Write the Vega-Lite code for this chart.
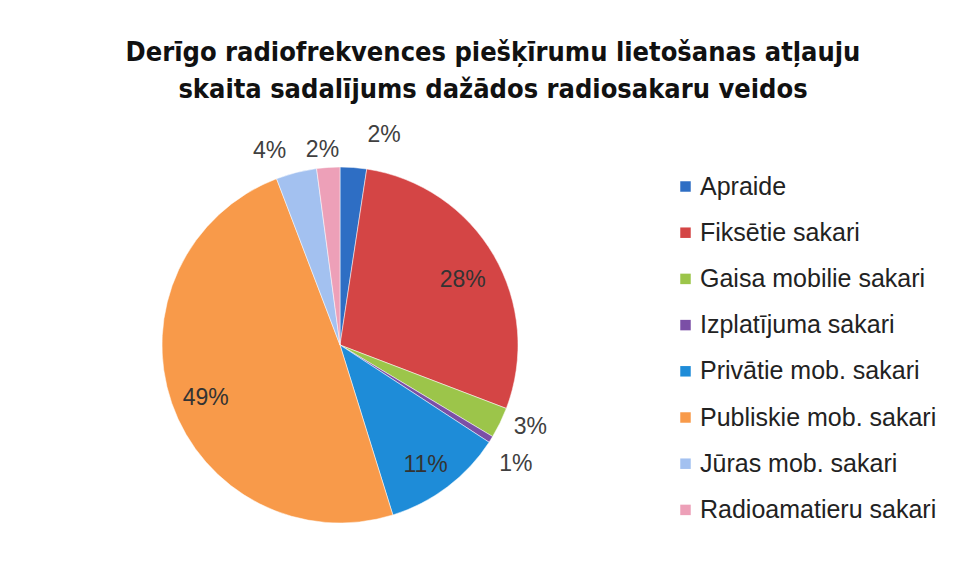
{
  "$schema": "https://vega.github.io/schema/vega-lite/v6.json",
  "width": 356,
  "height": 356,
  "autosize": {"type": "none"},
  "padding": {"left": 162, "top": 167, "right": 440, "bottom": 62},
  "background": "white",
  "title": {
    "text": ["Derīgo radiofrekvences piešķīrumu lietošanas atļauju", "skaita sadalījums dažādos radiosakaru veidos"],
    "frame": "group",
    "anchor": "middle",
    "dx": 153,
    "offset": 17,
    "font": "DejaVu Sans Condensed, Liberation Sans Narrow, Roboto, sans-serif",
    "fontWeight": "bold",
    "fontSize": 27,
    "lineHeight": 37,
    "color": "#111111"
  },
  "data": {
    "values": [
      {"cat": "Apraide", "share": 0.024, "ord": 1},
      {"cat": "Fiksētie sakari", "share": 0.284, "ord": 2},
      {"cat": "Gaisa mobilie sakari", "share": 0.028, "ord": 3},
      {"cat": "Izplatījuma sakari", "share": 0.006, "ord": 4},
      {"cat": "Privātie mob. sakari", "share": 0.110, "ord": 5},
      {"cat": "Publiskie mob. sakari", "share": 0.490, "ord": 6},
      {"cat": "Jūras mob. sakari", "share": 0.037, "ord": 7},
      {"cat": "Radioamatieru sakari", "share": 0.021, "ord": 8}
    ]
  },
  "encoding": {
    "theta": {"field": "share", "type": "quantitative", "stack": true},
    "order": {"field": "ord", "type": "quantitative"}
  },
  "layer": [
    {
      "mark": {"type": "arc", "outerRadius": 178, "stroke": "white", "strokeWidth": 0.5},
      "encoding": {
        "color": {
          "field": "cat",
          "type": "nominal",
          "scale": {
            "domain": ["Apraide", "Fiksētie sakari", "Gaisa mobilie sakari", "Izplatījuma sakari", "Privātie mob. sakari", "Publiskie mob. sakari", "Jūras mob. sakari", "Radioamatieru sakari"],
            "range": ["#2e6ec4", "#d44545", "#9cc54a", "#7b4fa6", "#1e8cd8", "#f89a4a", "#a3c1f0", "#eda0b8"]
          },
          "legend": {
            "title": null,
            "orient": "none",
            "legendX": 511,
            "legendY": 7,
            "symbolType": "square",
            "symbolSize": 110,
            "symbolStrokeWidth": 0,
            "labelFont": "Liberation Sans",
            "labelFontSize": 25,
            "labelColor": "#222222",
            "labelOffset": 2,
            "labelLimit": 400,
            "rowPadding": 20.2
          }
        }
      }
    },
    {
      "mark": {"type": "text", "radius": 142, "dy": 7, "font": "Liberation Sans", "fontSize": 23, "color": "#333333"},
      "encoding": {
        "text": {"condition": {"test": "datum.share < 0.1", "value": ""}, "field": "share", "type": "quantitative", "format": ".0%"}
      }
    },
    {
      "mark": {"type": "text", "radius": 205, "dx": 6, "dy": -8, "font": "Liberation Sans", "fontSize": 23, "color": "#404040"},
      "encoding": {
        "text": {"condition": {"test": "datum.cat != 'Gaisa mobilie sakari'", "value": ""}, "field": "share", "type": "quantitative", "format": ".0%"}
      }
    },
    {
      "mark": {"type": "text", "radius": 205, "dx": 2, "dy": 10, "font": "Liberation Sans", "fontSize": 23, "color": "#404040"},
      "encoding": {
        "text": {"condition": {"test": "datum.cat != 'Izplatījuma sakari'", "value": ""}, "field": "share", "type": "quantitative", "format": ".0%"}
      }
    },
    {
      "mark": {"type": "text", "radius": 205, "dx": -20, "dy": 5, "font": "Liberation Sans", "fontSize": 23, "color": "#404040"},
      "encoding": {
        "text": {"condition": {"test": "datum.cat != 'Jūras mob. sakari'", "value": ""}, "field": "share", "type": "quantitative", "format": ".0%"}
      }
    },
    {
      "mark": {"type": "text", "radius": 205, "dx": -4, "dy": 10, "font": "Liberation Sans", "fontSize": 23, "color": "#404040"},
      "encoding": {
        "text": {"condition": {"test": "datum.cat != 'Radioamatieru sakari'", "value": ""}, "field": "share", "type": "quantitative", "format": ".0%"}
      }
    },
    {
      "mark": {"type": "text", "radius": 213, "dx": 28, "dy": 2, "font": "Liberation Sans", "fontSize": 23, "color": "#404040"},
      "encoding": {
        "text": {"condition": {"test": "datum.cat != 'Apraide'", "value": ""}, "field": "share", "type": "quantitative", "format": ".0%"}
      }
    }
  ]
}
